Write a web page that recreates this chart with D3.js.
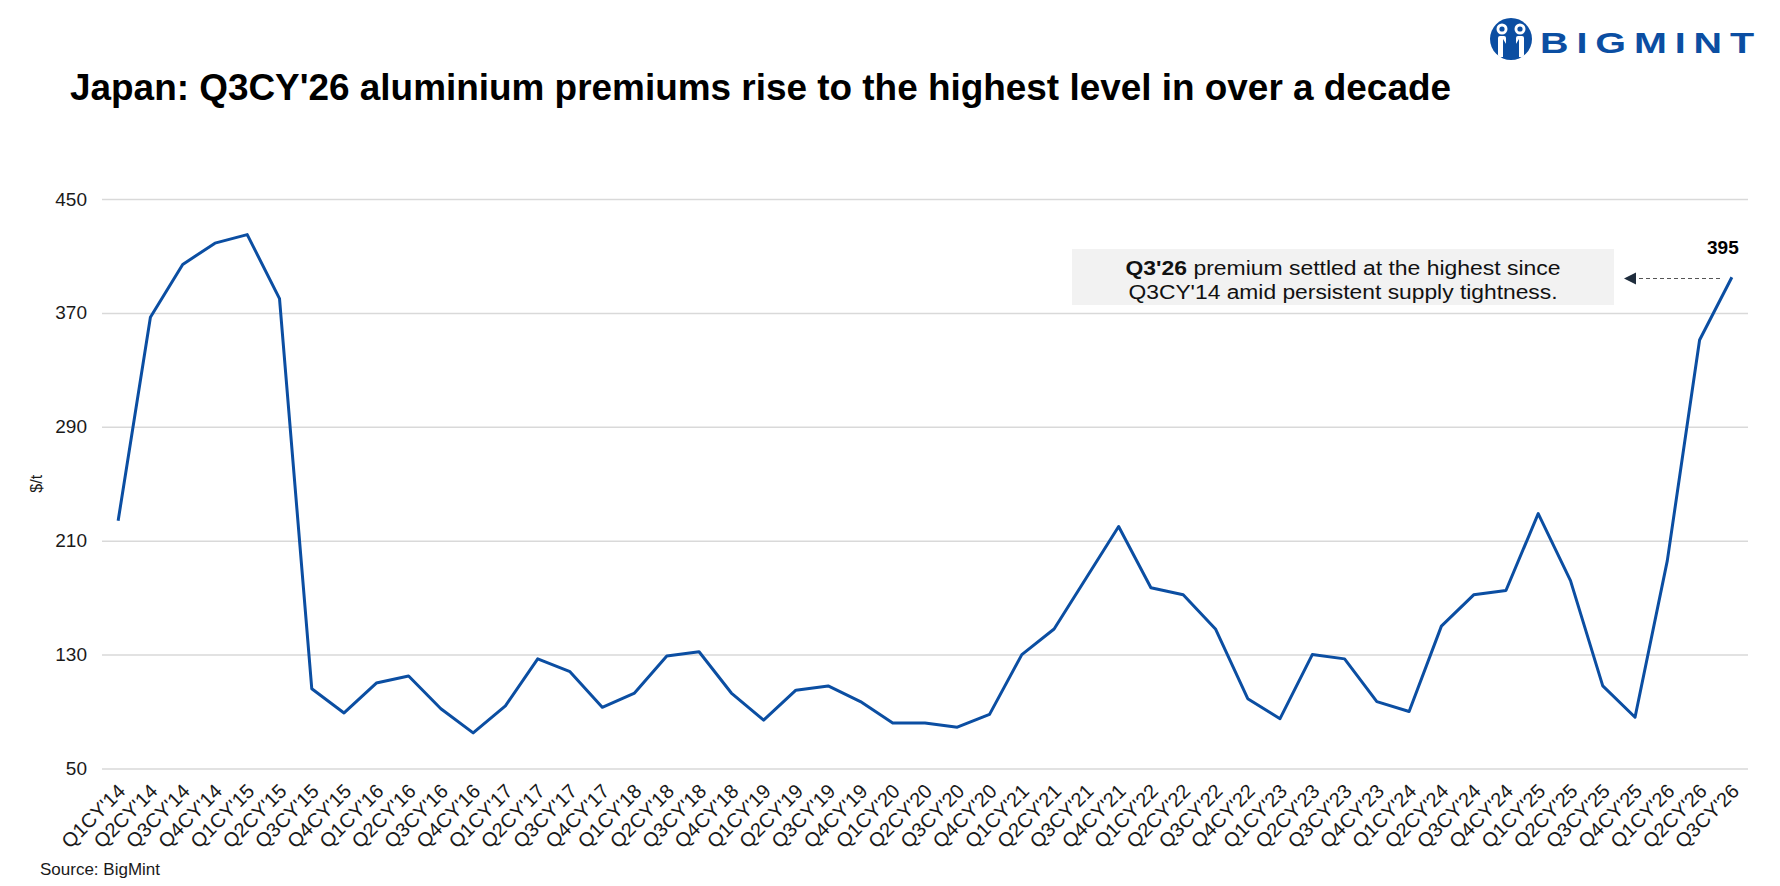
<!DOCTYPE html>
<html>
<head>
<meta charset="utf-8">
<script src="https://cdn.jsdelivr.net/npm/d3@7"></script>
<style>
  body { margin: 0; background: #fff; }
  svg { display: block; font-family: "Liberation Sans", Arial, sans-serif; }
</style>
</head>
<body>
<div id="chart"></div>
<script>
// Canvas size
var w = 1780,
    h = 886;

// Quarter labels along the x axis
var quarters = [
  "Q1CY'14", "Q2CY'14", "Q3CY'14", "Q4CY'14",
  "Q1CY'15", "Q2CY'15", "Q3CY'15", "Q4CY'15",
  "Q1CY'16", "Q2CY'16", "Q3CY'16", "Q4CY'16",
  "Q1CY'17", "Q2CY'17", "Q3CY'17", "Q4CY'17",
  "Q1CY'18", "Q2CY'18", "Q3CY'18", "Q4CY'18",
  "Q1CY'19", "Q2CY'19", "Q3CY'19", "Q4CY'19",
  "Q1CY'20", "Q2CY'20", "Q3CY'20", "Q4CY'20",
  "Q1CY'21", "Q2CY'21", "Q3CY'21", "Q4CY'21",
  "Q1CY'22", "Q2CY'22", "Q3CY'22", "Q4CY'22",
  "Q1CY'23", "Q2CY'23", "Q3CY'23", "Q4CY'23",
  "Q1CY'24", "Q2CY'24", "Q3CY'24", "Q4CY'24",
  "Q1CY'25", "Q2CY'25", "Q3CY'25", "Q4CY'25",
  "Q1CY'26", "Q2CY'26", "Q3CY'26"
];

// Japan aluminium premium, $/t
var premiums = [
  224, 367, 404, 419,
  425, 380, 106, 89,
  110, 115, 92, 75,
  94, 127, 118, 93,
  103, 129, 132, 103,
  84, 105, 108, 97,
  82, 82, 79, 88,
  130, 148, 184, 220,
  177, 172, 148, 99,
  85, 130, 127, 97,
  90, 150, 172, 175,
  229, 182, 108, 86,
  196, 351, 395
];

// Y axis ticks
var yTicks = [50, 130, 210, 290, 370, 450];

var blue = "#0b4ea2";

var svg = d3.select("#chart")
    .append("svg")
    .attr("width", w)
    .attr("height", h)
    .attr("viewBox", "0 0 " + w + " " + h);

// Scales
var x = d3.scalePoint()
    .domain(quarters)
    .range([102, 1748])
    .padding(0.5);

var y = d3.scaleLinear()
    .domain([50, 450])
    .range([768.5, 199]);

// Title
svg.append("text")
    .attr("x", 70)
    .attr("y", 100)
    .attr("font-size", 36)
    .attr("font-weight", "bold")
    .attr("fill", "#000")
    .attr("textLength", 1381)
    .attr("lengthAdjust", "spacingAndGlyphs")
    .text("Japan: Q3CY'26 aluminium premiums rise to the highest level in over a decade");

// Logo
var logo = svg.append("g");
logo.append("circle")
    .attr("cx", 1511).attr("cy", 39).attr("r", 21)
    .attr("fill", blue);
[1502, 1520].forEach(function (cx) {
    logo.append("circle").attr("cx", cx).attr("cy", 29).attr("r", 5.5).attr("fill", "#fff");
    logo.append("circle").attr("cx", cx).attr("cy", 29).attr("r", 2.6).attr("fill", blue);
    logo.append("rect")
        .attr("x", cx - 4).attr("y", 36).attr("width", 8).attr("height", 21)
        .attr("rx", 2).attr("fill", "#fff");
});
logo.append("path")
    .attr("d", "M1503,39 L1511,52 L1519,39 L1519,58 L1503,58 Z")
    .attr("fill", blue);
logo.append("text")
    .attr("x", 1540).attr("y", 53)
    .attr("font-size", 30)
    .attr("font-weight", "bold")
    .attr("letter-spacing", 6)
    .attr("fill", blue)
    .attr("textLength", 222)
    .attr("lengthAdjust", "spacingAndGlyphs")
    .text("BIGMINT");

// Gridlines
var yAxis = d3.axisLeft(y)
    .tickValues(yTicks)
    .tickSize(-(1748 - 102))
    .tickPadding(15);

var gy = svg.append("g")
    .attr("transform", "translate(102,0)")
    .call(yAxis);
gy.select(".domain").remove();
gy.selectAll(".tick line")
    .attr("stroke", "#d9d9d9")
    .attr("stroke-width", 1.5);
gy.selectAll(".tick text")
    .attr("font-size", 19)
    .attr("fill", "#1a1a1a")
    .attr("font-family", "Liberation Sans, Arial, sans-serif");

// Y axis title
svg.append("text")
    .attr("transform", "translate(42," + y(250) + ") rotate(-90)")
    .attr("text-anchor", "middle")
    .attr("font-size", 16)
    .attr("fill", "#1a1a1a")
    .text("$/t");

// X axis labels
var xAxis = d3.axisBottom(x).tickSize(0).tickPadding(0);
var gx = svg.append("g")
    .attr("transform", "translate(0," + y(50) + ")")
    .call(xAxis);
gx.select(".domain").remove();
gx.selectAll(".tick text")
    .attr("font-size", 20)
    .attr("fill", "#1a1a1a")
    .attr("font-family", "Liberation Sans, Arial, sans-serif")
    .attr("text-anchor", "end")
    .attr("dy", "0.35em")
    .attr("transform", "translate(3,19) rotate(-45)");

// Line
var line = d3.line()
    .x(function (d, i) { return x(quarters[i]); })
    .y(function (d) { return y(d); });

svg.append("path")
    .datum(premiums)
    .attr("fill", "none")
    .attr("stroke", blue)
    .attr("stroke-width", 3)
    .attr("stroke-linejoin", "round")
    .attr("d", line);

// Last value label
var last = premiums.length - 1;
svg.append("text")
    .attr("x", x(quarters[last]) - 9)
    .attr("y", y(premiums[last]) - 23)
    .attr("text-anchor", "middle")
    .attr("font-size", 19)
    .attr("font-weight", "bold")
    .attr("fill", "#000")
    .text(premiums[last]);

// Annotation box
svg.append("rect")
    .attr("x", 1072).attr("y", 249)
    .attr("width", 542).attr("height", 56)
    .attr("fill", "#f2f2f2");

var note1 = svg.append("text")
    .attr("x", 1343).attr("y", 275)
    .attr("text-anchor", "middle")
    .attr("font-size", 20)
    .attr("fill", "#111")
    .attr("textLength", 435)
    .attr("lengthAdjust", "spacingAndGlyphs");
note1.append("tspan").attr("font-weight", "bold").text("Q3'26");
note1.append("tspan").text(" premium settled at the highest since");

svg.append("text")
    .attr("x", 1343).attr("y", 299)
    .attr("text-anchor", "middle")
    .attr("font-size", 20)
    .attr("fill", "#111")
    .attr("textLength", 429)
    .attr("lengthAdjust", "spacingAndGlyphs")
    .text("Q3CY'14 amid persistent supply tightness.");

// Arrow from the last point to the note
svg.append("line")
    .attr("x1", 1720).attr("y1", 278.5)
    .attr("x2", 1634).attr("y2", 278.5)
    .attr("stroke", "#555")
    .attr("stroke-width", 1.2)
    .attr("stroke-dasharray", "4,3");
svg.append("path")
    .attr("d", "M1624,278.5 L1636,272.5 L1636,284.5 Z")
    .attr("fill", "#1f2d3d");

// Source
svg.append("text")
    .attr("x", 40).attr("y", 875)
    .attr("font-size", 17)
    .attr("fill", "#1a1a1a")
    .text("Source: BigMint");
</script>
</body>
</html>
